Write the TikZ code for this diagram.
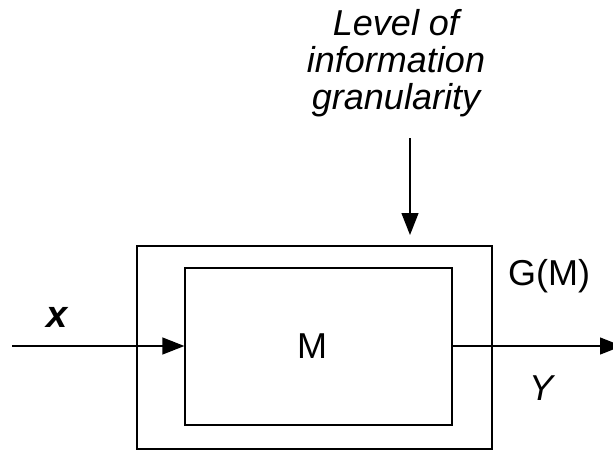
\documentclass[tikz,border=0pt]{standalone}
\usepackage{fontspec}
\setmainfont{Liberation Sans}
\usetikzlibrary{arrows.meta}
\begin{document}
\begin{tikzpicture}[x=1pt,y=-1pt,
  box/.style={draw, line width=1.3pt, inner sep=0pt},
  conn/.style={line width=1.3pt, -{Triangle[length=22pt,width=17pt]}},
  txt/.style={inner sep=0pt, font=\fontsize{36}{37}\selectfont}]
\useasboundingbox (0,0) rectangle (613,450);
% outer and inner boxes
\node[box, minimum width=355pt, minimum height=203pt] (G) at (314.5,347.5) {};
\node[box, minimum width=267pt, minimum height=157pt] (inner) at (318.5,346.5) {};
% labels
\node[txt, align=center, font=\fontsize{36}{37}\selectfont\itshape] (lvl) at (396,63)
  {Level of\\information\\granularity};
\node[txt, anchor=base] (Mlab) at (312,358) {M};
\node[txt, anchor=base] (GM) at (549,285) {G(M)};
\node[txt, anchor=base, font=\fontsize{38}{38}\selectfont\bfseries\itshape] (xlab) at (57,327) {x};
\node[txt, anchor=base, font=\fontsize{36}{37}\selectfont\itshape] (ylab) at (541,400) {Y};
% connector end points
\coordinate (xin) at (12,346);
\coordinate (yout) at (622,346);
\coordinate (ltop) at (410,138);
\coordinate (lend) at (410,235);
% connectors
\draw[conn] (xin) -- (xin -| inner.west);
\draw[conn] (inner.east |- yout) -- (yout);
\draw[conn] (ltop) -- (lend);
\end{tikzpicture}
\end{document}
